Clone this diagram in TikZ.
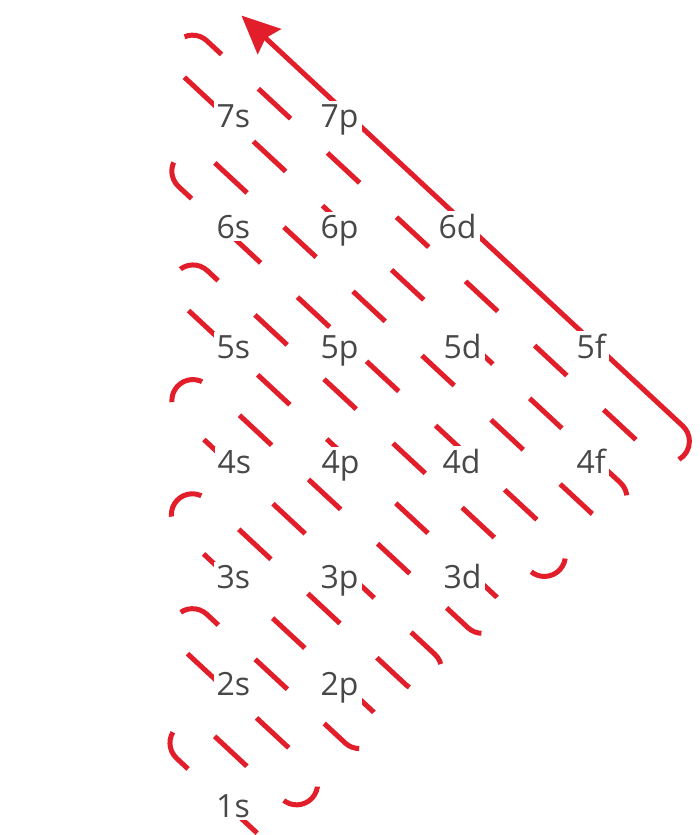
\documentclass[tikz,border=0pt]{standalone}
\usepackage{fontspec}
\setmainfont{Open Sans}
\usetikzlibrary{arrows.meta}
\definecolor{ored}{RGB}{226,30,42}
\definecolor{lgray}{RGB}{72,72,72}
\tikzset{
  snakeline/.style={draw=ored, line width=5pt, line cap=butt,
    dash pattern=on 44pt off 50.3pt, dash phase=69.4pt},
  solidline/.style={draw=ored, line width=5pt, line cap=butt,
    -{Stealth[length=38pt,width=34pt,inset=5pt]}},
  lab/.style={anchor=base west, fill=white, text=lgray, inner xsep=3pt,
    inner ysep=3pt, font=\fontsize{32pt}{34pt}\selectfont}
}
\begin{document}
\begin{tikzpicture}[x=1pt,y=-1pt]
\useasboundingbox (0,0) rectangle (700,835);
\clip (0,0) rectangle (700,835);
\begin{scope}[x={(0.7323pt,-0.681pt)}, y={(-0.681pt,-0.7323pt)}]
\draw[snakeline] (790,-111) -- (179.25,-111)
  arc[start angle=-90,end angle=-270,radius=21] -- (782.8,-69)
  arc[start angle=-90,end angle=90,radius=21] -- (257.7,-27)
  arc[start angle=-90,end angle=-270,radius=21] -- (776.9,15)
  arc[start angle=-90,end angle=90,radius=21] -- (336,57)
  arc[start angle=-90,end angle=-270,radius=21] -- (770.1,99)
  arc[start angle=-90,end angle=90,radius=21] -- (414,141)
  arc[start angle=-90,end angle=-270,radius=21] -- (763.9,183)
  arc[start angle=-90,end angle=90,radius=21] -- (491.4,225)
  arc[start angle=-90,end angle=-270,radius=21] -- (758.7,267)
  arc[start angle=-90,end angle=90,radius=21] -- (569.75,309)
  arc[start angle=-90,end angle=-270,radius=21] -- (751,351)
  arc[start angle=-90,end angle=90,radius=21] -- (645.75,393)
  arc[start angle=-90,end angle=-270,radius=21] -- (800,435);
\coordinate (tip) at (187.4,-153);
\draw[solidline] (810.08,-125.86) arc[start angle=17,end angle=-90,radius=21] -- (tip);
\end{scope}
\node[lab] (o7s) at (213.4,127) {7s};
\node[lab] (o7p) at (317.4,127) {7p};
\node[lab] (o6s) at (213.4,238) {6s};
\node[lab] (o6p) at (317.4,238) {6p};
\node[lab] (o6d) at (435.4,238) {6d};
\node[lab] (o5s) at (213.4,358) {5s};
\node[lab] (o5p) at (317.4,358) {5p};
\node[lab] (o5d) at (440.4,358) {5d};
\node[lab] (o5f) at (573.4,358) {5f};
\node[lab] (o4s) at (214.4,473) {4s};
\node[lab] (o4p) at (318.4,473) {4p};
\node[lab] (o4d) at (439.4,473) {4d};
\node[lab] (o4f) at (573.4,473) {4f};
\node[lab] (o3s) at (213.4,588) {3s};
\node[lab] (o3p) at (317.4,588) {3p};
\node[lab] (o3d) at (440.4,588) {3d};
\node[lab] (o2s) at (213.4,695) {2s};
\node[lab] (o2p) at (317.4,695) {2p};
\node[lab] (o1s) at (213.0,817) {1s};
\end{tikzpicture}
\end{document}
